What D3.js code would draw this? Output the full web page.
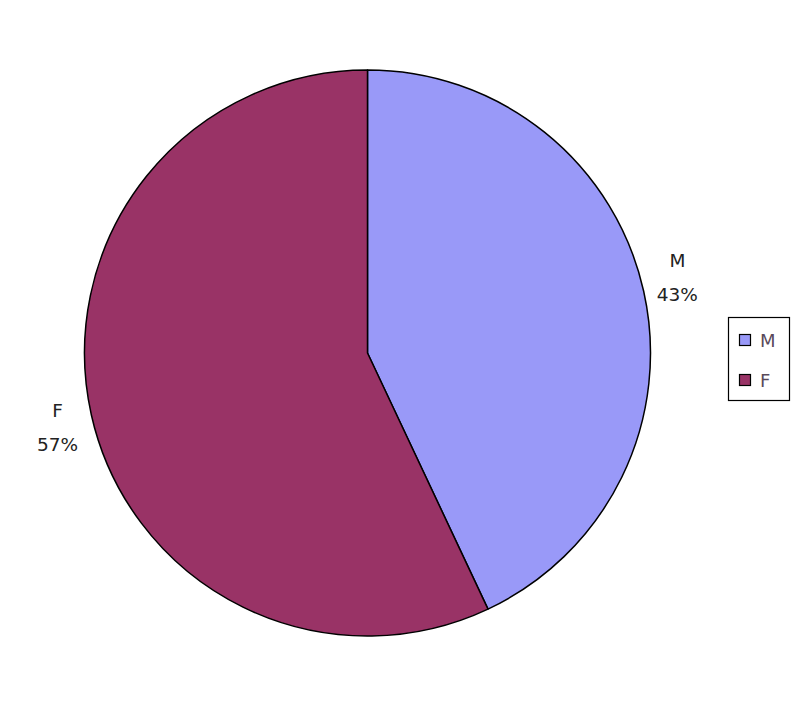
<!DOCTYPE html>
<html><head><meta charset="utf-8">
<script src="https://cdn.jsdelivr.net/npm/d3@7"></script>
<style>body{margin:0;background:#fff}svg{display:block}</style>
</head><body>
<script>
const categories = ["M", "F"];
const values = [43, 57];
const colors = ["#9999f8", "#993366"];

const W = 808, H = 704;
const cx = 367.5, cy = 353, R = 283;
const svg = d3.select("body").append("svg").attr("width", W).attr("height", H);
svg.append("rect").attr("width", W).attr("height", H).attr("fill", "#fff");

const data = categories.map((c, i) => ({cat: c, value: values[i], color: colors[i]}));
const pie = d3.pie().value(d => d.value).sort(null);
const arc = d3.arc().innerRadius(0).outerRadius(R);
const g = svg.append("g").attr("transform", `translate(${cx},${cy})`);
const arcs = pie(data);
g.selectAll("path").data(arcs).join("path")
  .attr("d", arc).attr("fill", d => d.data.color)
  .attr("stroke", "#000").attr("stroke-width", 1.5).attr("stroke-linejoin", "round");

const total = d3.sum(values);
const font = "DejaVu Sans, Verdana, sans-serif";
arcs.forEach(a => {
  const mid = (a.startAngle + a.endAngle) / 2;
  const s = Math.sin(mid) >= 0 ? 1 : -1;
  const ex = cx + Math.sin(mid) * (R + 12);
  const by = cy - Math.cos(mid) * 346;
  const tx = ex + s * 22;
  const t = svg.append("text").attr("font-family", font).attr("font-size", 18.5)
    .attr("fill", "#222").attr("text-anchor", "middle");
  t.append("tspan").attr("x", tx).attr("y", by - 11).text(a.data.cat);
  t.append("tspan").attr("x", tx).attr("y", by + 23).text(Math.round(a.data.value / total * 100) + "%");
});

// legend
const lg = svg.append("g");
lg.append("rect").attr("x", 728.5).attr("y", 317.5).attr("width", 61).attr("height", 83)
  .attr("fill", "#fff").attr("stroke", "#000").attr("stroke-width", 1.2);
data.forEach((d, i) => {
  const y = 334 + i * 40;
  lg.append("rect").attr("x", 739.5).attr("y", y + 0.5).attr("width", 11).attr("height", 11)
    .attr("fill", d.color).attr("stroke", "#000").attr("stroke-width", 1.2);
  lg.append("text").attr("x", 760).attr("y", y + 13).attr("font-family", font)
    .attr("font-size", 18).attr("fill", "#5a4a5a").text(d.cat);
});
</script>
</body></html>
